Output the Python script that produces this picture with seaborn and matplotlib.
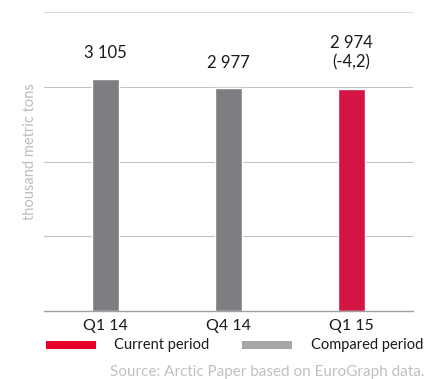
import matplotlib
matplotlib.use("Agg")
import matplotlib.pyplot as plt
from matplotlib.patches import Rectangle
import seaborn as sns
import pandas as pd

quarters = ["Q1 14", "Q4 14", "Q1 15"]
volumes = [3105, 2977, 2974]
value_labels = ["3 105", "2 977", "2 974\n(-4,2)"]
period = ["Compared period", "Compared period", "Current period"]

bar_colors = {"Compared period": "#7d7e82", "Current period": "#d41443"}
legend_colors = {"Current period": "#e4002b", "Compared period": "#a6a6a6"}

df = pd.DataFrame({"quarter": quarters, "volume": volumes, "period": period})

sns.set_style("white")
plt.rcParams["font.family"] = ["Lato", "DejaVu Sans"]

W, H = 428, 379
fig = plt.figure(figsize=(W / 100, H / 100), dpi=100)
ax = fig.add_axes([44 / W, 1 - 311 / H, 369 / W, 299 / H])

sns.barplot(data=df, x="quarter", y="volume", hue="period", palette=bar_colors,
            dodge=False, width=0.22, legend=False, ax=ax, saturation=1)

ax.set_xlim(-0.5, 2.5)
ax.set_ylim(0, 4000)
ax.set_yticks([1000, 2000, 3000, 4000])
ax.yaxis.grid(True, color="#c4c4c4", linewidth=0.8)
gl = ax.get_ygridlines()
gl[-1].set_color("#dcdcdc")
gl[-1].set_linewidth(1.6)
ax.set_axisbelow(True)
ax.tick_params(axis="y", length=0, labelleft=False)
for side in ["top", "right", "left"]:
    ax.spines[side].set_visible(False)
ax.spines["bottom"].set_color("#a0a0a0")
ax.spines["bottom"].set_linewidth(1.0)

# category separators on the baseline
ax.set_xticks([-0.5, 0.5, 1.5, 2.5], minor=True)
ax.tick_params(axis="x", which="minor", length=4, color="#a0a0a0", width=1.0, direction="out")
ax.tick_params(axis="x", which="major", length=0, labelsize=11.5, colors="#1a1a1a", pad=6)
ax.set_xticks(range(len(quarters)))
ax.set_xticklabels(quarters)
ax.set_xlabel("")
ax.set_ylabel("")

fig.text(30 / W, 1 - 152 / H, "thousand metric tons", rotation=90,
         ha="center", va="center", fontsize=10.5, color="#bdbdbd")

for i, (v, lab) in enumerate(zip(volumes, value_labels)):
    ax.text(i, v + 240, lab, ha="center", va="bottom", fontsize=12,
            color="#1a1a1a", linespacing=1.25)

# legend drawn as swatches and labels on the figure
legend_items = [("Current period", 46, 114), ("Compared period", 242, 311)]
for name, x0, tx in legend_items:
    fig.add_artist(Rectangle((x0 / W, 1 - 349 / H), 50 / W, 8 / H,
                             transform=fig.transFigure,
                             facecolor=legend_colors[name], edgecolor="none"))
    fig.text(tx / W, 1 - 345 / H, name, ha="left", va="center",
             fontsize=10.5, color="#1a1a1a")

fig.text(425 / W, 1 - 372 / H, "Source: Arctic Paper based on EuroGraph data.",
         ha="right", va="center", fontsize=11, color="#c0c0c0")

fig.savefig("out.png", dpi=100)
